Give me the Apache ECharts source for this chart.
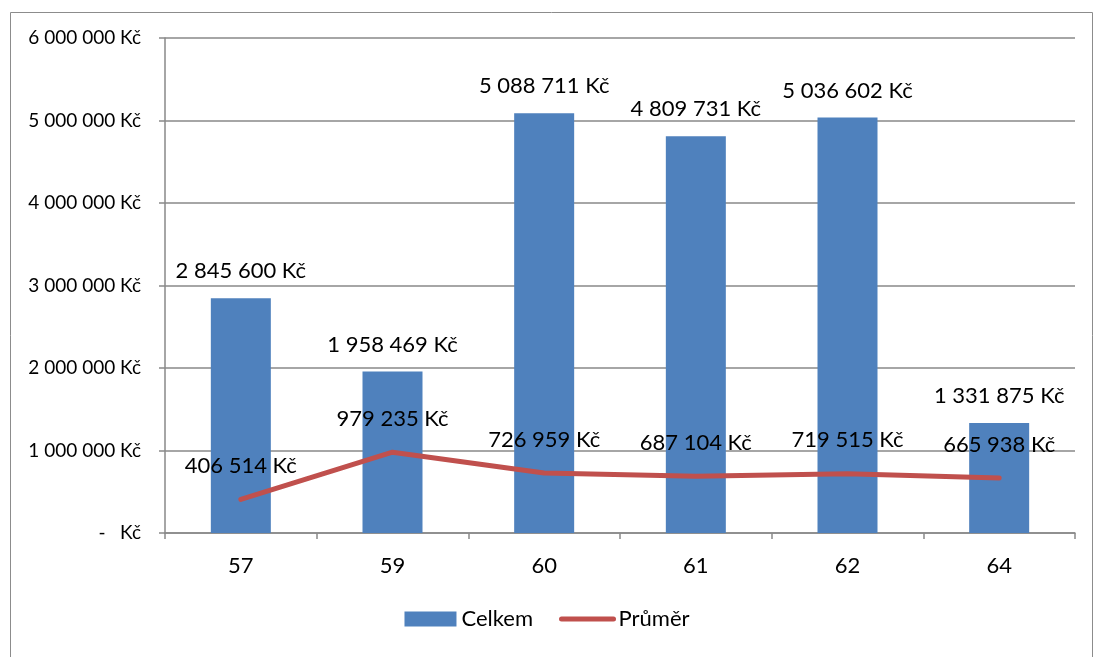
<!DOCTYPE html>
<html>
<head>
<meta charset="utf-8">
<script src="https://cdn.jsdelivr.net/npm/echarts@6/dist/echarts.min.js"></script>
<style>
  html, body { margin: 0; padding: 0; background: #fff; }
  #chart { width: 1094px; height: 657px; }
</style>
</head>
<body>
<div id="chart"></div>
<script>
var categories = ['57', '59', '60', '61', '62', '64'];
var celkem = [2845600, 1958469, 5088711, 4809731, 5036602, 1331875];
var prumer = [406514, 979235, 726959, 687104, 719515, 665938];

var FONT = 'Lato, "Open Sans", sans-serif';

function kc(v) {
  if (v === 0) return '-   Kč';
  return String(Math.round(v)).replace(/\B(?=(\d{3})+(?!\d))/g, ' ') + ' Kč';
}

var chart = echarts.init(document.getElementById('chart'));
chart.setOption({
  animation: false,
  backgroundColor: '#fff',
  graphic: [{
    type: 'rect', left: 8, top: 10,
    shape: { width: 1082, height: 660 },
    style: { fill: 'none', stroke: '#8c8c8c', lineWidth: 1 }
  }],
  grid: { left: 165, right: 19, top: 38, bottom: 124 },
  legend: {
    bottom: 22, left: 'center', itemGap: 26,
    itemWidth: 52, itemHeight: 15,
    textStyle: { fontFamily: FONT, fontSize: 22, color: '#000' },
    data: [
      { name: 'Celkem', icon: 'rect' },
      { name: 'Průměr', itemStyle: { opacity: 0 }, lineStyle: { width: 5, cap: 'round', color: '#C0504D' } }
    ]
  },
  xAxis: {
    type: 'category', data: categories,
    axisLine: { lineStyle: { color: '#898989', width: 1.5 } },
    axisTick: { show: true, length: 6, lineStyle: { color: '#898989', width: 1.5 } },
    axisLabel: { fontFamily: FONT, fontSize: 22, color: '#000', margin: 22 }
  },
  yAxis: {
    type: 'value', min: 0, max: 6000000, interval: 1000000,
    axisLine: { show: true, lineStyle: { color: '#898989', width: 1.5 } },
    axisTick: { show: true, length: 6, lineStyle: { color: '#898989', width: 1.5 } },
    splitLine: { lineStyle: { color: '#898989', width: 1.5 } },
    axisLabel: { fontFamily: FONT, fontSize: 19, color: '#000', margin: 24, formatter: kc }
  },
  series: [
    {
      name: 'Celkem', type: 'bar', data: celkem, barWidth: 60,
      itemStyle: { color: '#4F81BD' },
      label: {
        show: true, position: 'top', distance: 16,
        fontFamily: FONT, fontSize: 22, color: '#000',
        formatter: function(p) { return kc(p.value); }
      }
    },
    {
      name: 'Průměr', type: 'line', data: prumer,
      symbol: 'circle', symbolSize: 1, showAllSymbol: true,
      lineStyle: { color: '#C0504D', width: 5, cap: 'round' },
      itemStyle: { color: 'rgba(192,80,77,0)', borderWidth: 0 },
      label: {
        show: true, position: 'top', distance: 22,
        fontFamily: FONT, fontSize: 22, color: '#000',
        formatter: function(p) { return kc(p.value); }
      },
      labelLayout: { hideOverlap: false },
      emphasis: { disabled: true },
      z: 5
    }
  ]
});
</script>
</body>
</html>
